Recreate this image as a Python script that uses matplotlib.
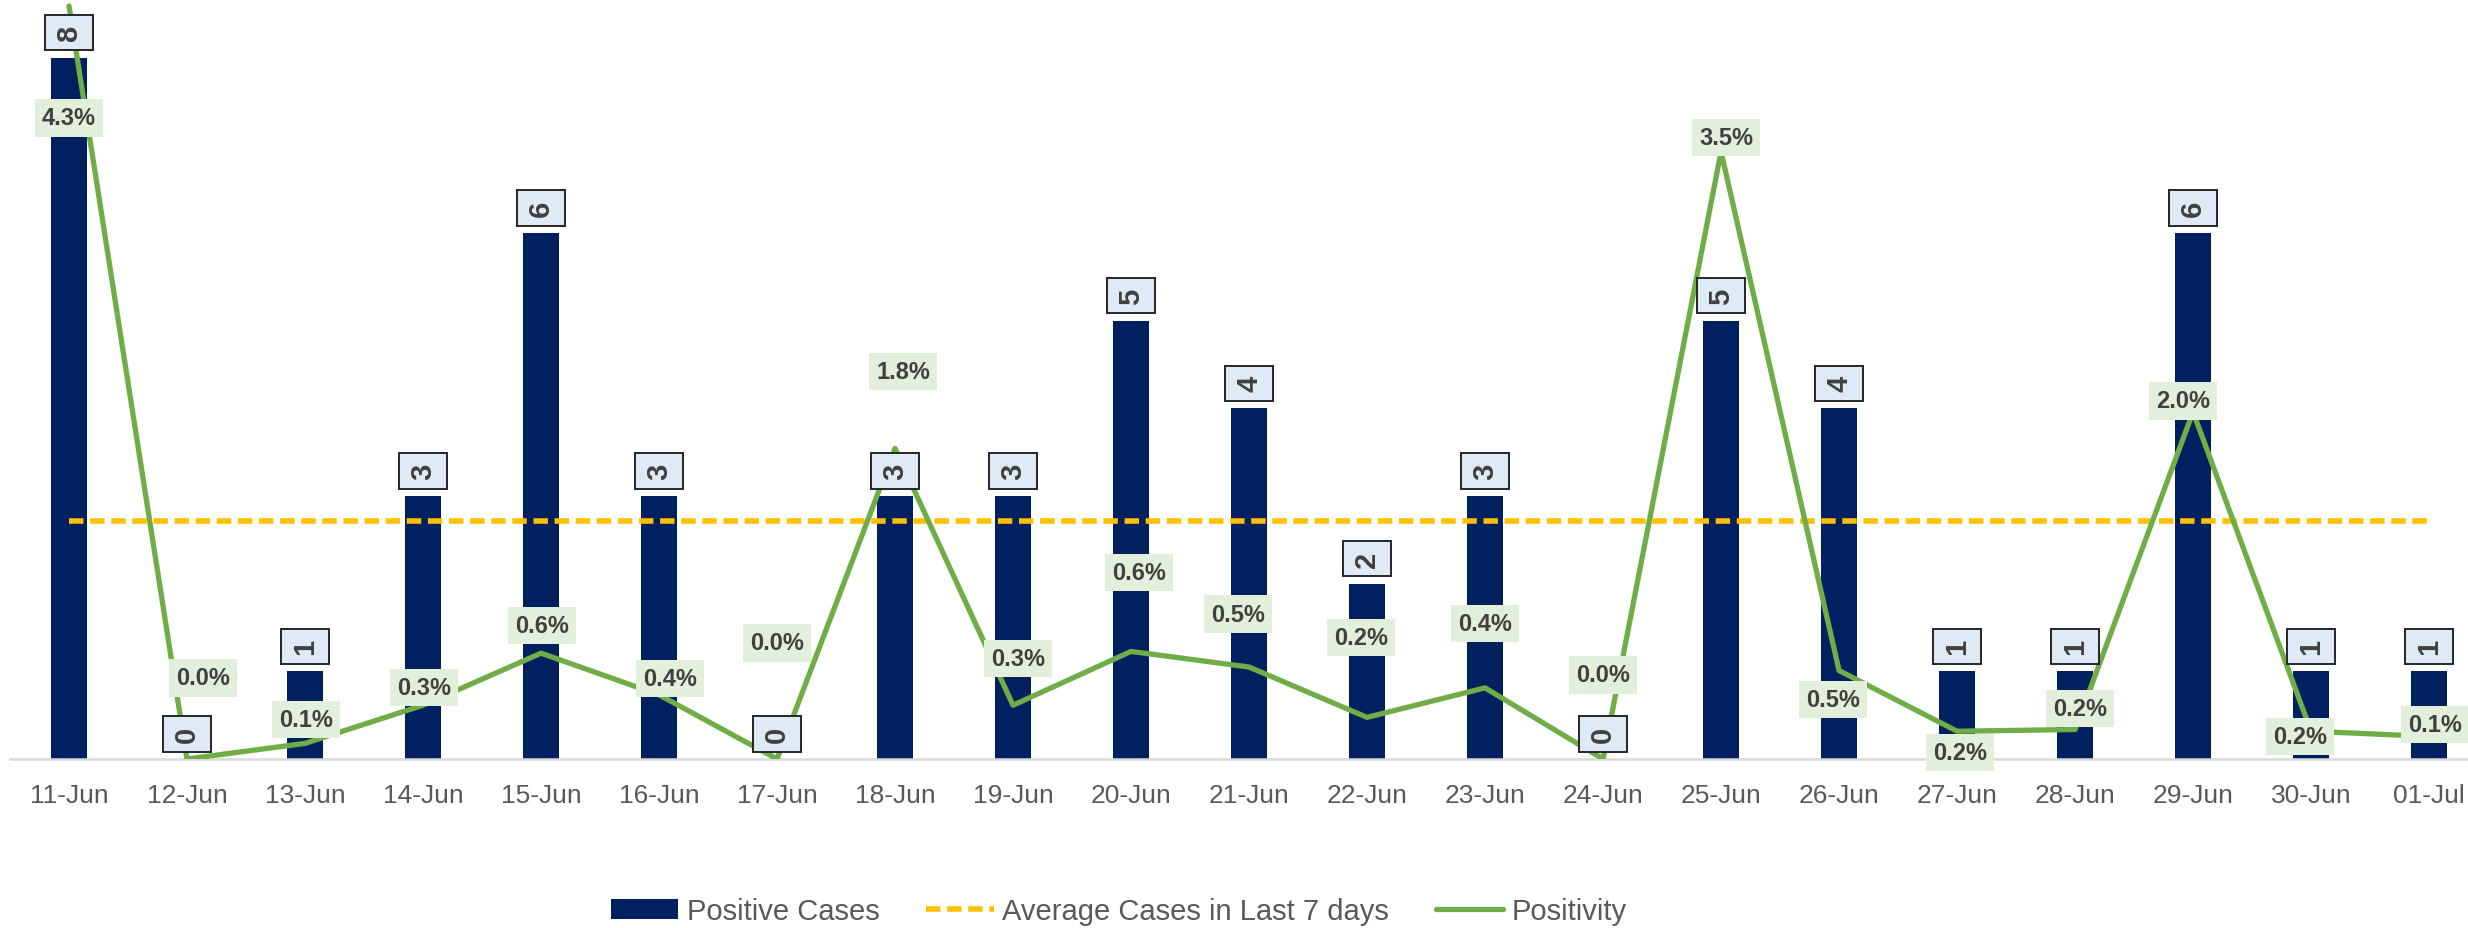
import matplotlib.pyplot as plt
import numpy as np

plt.rcParams['font.family'] = ['Liberation Sans Narrow', 'Liberation Sans', 'DejaVu Sans']

# data
dates = ['11-Jun', '12-Jun', '13-Jun', '14-Jun', '15-Jun', '16-Jun', '17-Jun',
         '18-Jun', '19-Jun', '20-Jun', '21-Jun', '22-Jun', '23-Jun', '24-Jun',
         '25-Jun', '26-Jun', '27-Jun', '28-Jun', '29-Jun', '30-Jun', '01-Jul']
cases = [8, 0, 1, 3, 6, 3, 0, 3, 3, 5, 4, 2, 3, 0, 5, 4, 1, 1, 6, 1, 1]
positivity = [4.34, 0.0, 0.09, 0.31, 0.61, 0.37, 0.0, 1.79, 0.31, 0.62, 0.53,
              0.24, 0.41, 0.0, 3.5, 0.51, 0.16, 0.17, 2.0, 0.16, 0.13]
avg_cases = 2.71

# where each positivity label sits relative to its point (pixels, y up)
pct_offsets = [(0, -112), (16, 81), (1, 24), (1, 18), (1, 28), (11, 16), (0, 116),
               (8, 77), (5, 47), (8, 79), (-11, 53), (-6, 80), (0, 64), (0, 84),
               (5, 14), (-6, -29), (3, -21), (5, 21), (-10, 11), (-11, -5), (6, 12)]

PX = 72 / 100  # pixels -> points

fig = plt.figure(figsize=(24.68, 9.29), dpi=100)
ax = fig.add_axes([10 / 2468, 169 / 929, 1 - 10 / 2468, 760 / 929])
x = np.arange(len(dates))

bars = ax.bar(x, cases, width=0.31, color='#002060', zorder=2)
avg_ln, = ax.plot(x, [avg_cases] * len(x), color='#FFC000', lw=4, dashes=(2.6, 1.2),
                  zorder=3)
ax.set_xlim(-0.5, 20.33)
ax.set_ylim(0, 8.67)

ax2 = ax.twinx()
ax2.set_ylim(0, 4.38)
pos_ln, = ax2.plot(x, positivity, color='#70AD47', lw=3.8, solid_joinstyle='round',
                   solid_capstyle='round', zorder=3)

for spine in ['top', 'left', 'right']:
    ax.spines[spine].set_visible(False)
    ax2.spines[spine].set_visible(False)
ax2.spines['bottom'].set_visible(False)
ax.spines['bottom'].set_color('#d9d9d9')
ax.spines['bottom'].set_linewidth(1.8)
ax.set_yticks([])
ax2.set_yticks([])
ax.set_xticks(x)
ax.set_xticklabels(dates, fontsize=19, color='#595959')
ax.tick_params(axis='x', length=0, pad=17)

# bar value labels, rotated, on top of everything
for xi, c in zip(x, cases):
    ax2.annotate(str(c), xy=(xi, c), xycoords=ax.transData,
                 xytext=(0, 25 * PX), textcoords='offset points',
                 rotation=90, ha='center', va='center', fontsize=21,
                 fontweight='bold', color='#404040', family='Liberation Sans',
                 bbox=dict(boxstyle='square,pad=0.33', fc='#DEEBF7', ec='#262626', lw=1.4),
                 zorder=6)

# positivity labels
for xi, p, (dx, dy) in zip(x, positivity, pct_offsets):
    ax2.annotate(f'{p:.1f}%', xy=(xi, p), xytext=(dx * PX, dy * PX),
                 textcoords='offset points', ha='center', va='center',
                 fontsize=17, fontweight='bold', color='#404040',
                 bbox=dict(boxstyle='square,pad=0.3', fc='#E2EFDA', ec='none'),
                 zorder=6, annotation_clip=False)

leg = fig.legend([bars, avg_ln, pos_ln],
                 ['Positive Cases', 'Average Cases in Last 7 days', 'Positivity'],
                 loc='center', bbox_to_anchor=(1119 / 2468, 1 - 912 / 929), ncol=3,
                 frameon=False, fontsize=21, handlelength=2.3, handletextpad=0.3,
                 columnspacing=1.6)
for t in leg.get_texts():
    t.set_color('#595959')

fig.savefig('out.png', dpi=100)
